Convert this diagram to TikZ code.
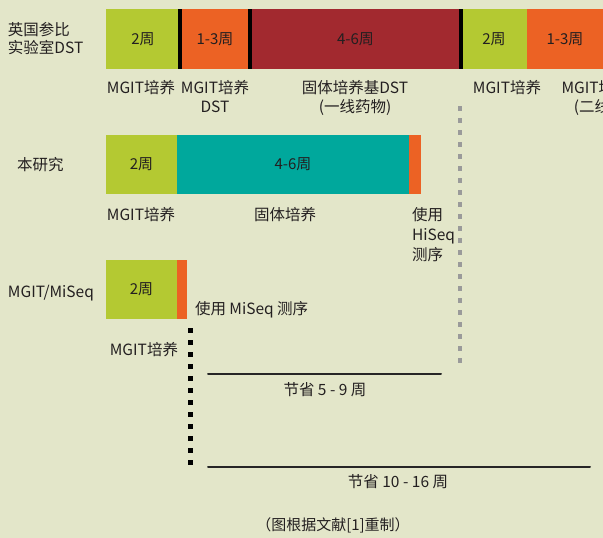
\documentclass[tikz,border=0pt]{standalone}
\usepackage{fontspec}
\setmainfont{Noto Sans CJK SC}
\definecolor{bg}{HTML}{E3E6C9}
\definecolor{lime}{HTML}{B4C932}
\definecolor{orng}{HTML}{EC6224}
\definecolor{dred}{HTML}{A2292F}
\definecolor{tealb}{HTML}{00A89C}
\definecolor{txt}{HTML}{231F20}
\definecolor{dotgray}{HTML}{9A9A9A}
\begin{document}
\begin{tikzpicture}[x=1pt,y=-1pt,
  seg/.style={anchor=north west, inner sep=0pt, outer sep=0pt, minimum height=60pt, text=txt, font=\fontsize{15}{17}\selectfont},
  lbl/.style={inner sep=0pt, outer sep=0pt, text=txt, align=center, font=\fontsize{15.5}{19}\selectfont},
  divider/.style={line width=4pt, black},
  blackdots/.style={line width=5pt, black, dash pattern=on 5pt off 7pt},
  graydots/.style={line width=4.5pt, dotgray, dash pattern=on 4.5pt off 7.5pt},
  savearrow/.style={line width=2pt, black!85, line cap=round}]
\useasboundingbox (0,0) rectangle (603,538);
\clip (0,0) rectangle (603,538);
\fill[bg] (0,0) rectangle (603,538);

% Row 1
\node[seg, fill=lime, minimum width=74pt] (a1) at (106,9) {2周};
\node[seg, fill=orng, minimum width=70pt] (a2) at (180,9) {1-3周};
\node[seg, fill=dred, minimum width=211pt] (a3) at (250,9) {4-6周};
\node[seg, fill=lime, minimum width=66pt] (a4) at (461,9) {2周};
\node[seg, fill=orng, minimum width=76pt] (a5) at (527,9) {1-3周};
\draw[divider] (a1.north east) -- (a1.south east);
\draw[divider] (a2.north east) -- (a2.south east);
\draw[divider] (a3.north east) -- (a3.south east);

\node[lbl, anchor=north west, align=left, font=\fontsize{15.5}{18}\selectfont] (r1) at (8,22) {英国参比\\实验室DST};
\node[lbl, anchor=north] (l11) at (141,80) {MGIT培养};
\node[lbl, anchor=north] (l12) at (215,80) {MGIT培养\\DST};
\node[lbl, anchor=north] (l13) at (355,80) {固体培养基DST\\(一线药物)};
\node[lbl, anchor=north] (l14) at (507,80) {MGIT培养};
\node[lbl, anchor=north] (l15) at (610,80) {MGIT培养DST\\(二线药物)};

% Row 2
\node[seg, fill=lime, minimum width=71pt, minimum height=59pt] (b1) at (106,135) {2周};
\node[seg, fill=tealb, minimum width=232pt, minimum height=59pt] (b2) at (177,135) {4-6周};
\node[seg, fill=orng, minimum width=12pt, minimum height=59pt] (b3) at (409,135) {};
\node[lbl, anchor=west] (r2) at (17,165) {本研究};
\node[lbl, anchor=north] (l21) at (141,207) {MGIT培养};
\node[lbl, anchor=north] (l22) at (285,207) {固体培养};
\node[lbl, anchor=north west, align=left, font=\fontsize{15.5}{20}\selectfont] (l23) at (412,207) {使用\\HiSeq\\测序};

% Row 3
\node[seg, fill=lime, minimum width=71pt, minimum height=59pt] (c1) at (106,260) {2周};
\node[seg, fill=orng, minimum width=10pt, minimum height=59pt] (c2) at (177,260) {};
\node[lbl, anchor=west] (r3) at (8,293) {MGIT/MiSeq};
\node[lbl, anchor=west] (l31) at (195,310) {使用 MiSeq 测序};
\node[lbl, anchor=east] (l32) at (178,350) {MGIT培养};

% dotted markers
\coordinate (bd1) at (190,328);
\coordinate (bd2) at (190,467);
\draw[blackdots] (bd1) -- (bd2);
\coordinate (gd1) at (460,106);
\coordinate (gd2) at (460,367);
\draw[graydots] (gd1) -- (gd2);

% savings
\coordinate (s1a) at (208,374);
\coordinate (s1b) at (441,374);
\draw[savearrow] (s1a) -- (s1b);
\node[lbl] (t1) at (325,390) {节省 5 - 9 周};
\coordinate (s2a) at (208,467);
\coordinate (s2b) at (590,467);
\draw[savearrow] (s2a) -- (s2b);
\node[lbl] (t2) at (398,482) {节省 10 - 16 周};

\node[lbl, font=\fontsize{15}{17}\selectfont] (foot) at (333,525) {（图根据文献[1]重制）};
\end{tikzpicture}
\end{document}
